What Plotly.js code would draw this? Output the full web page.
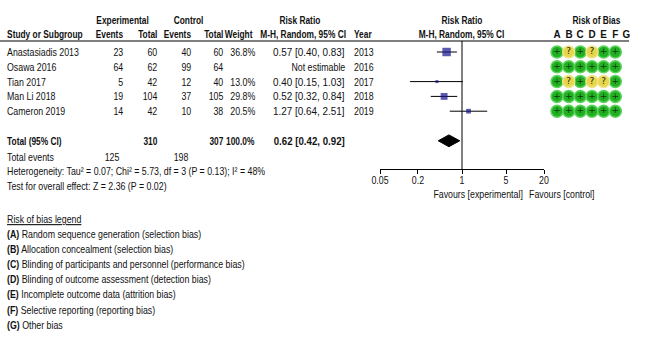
<!DOCTYPE html>
<html><head><meta charset="utf-8">
<script src="https://cdn.plot.ly/plotly-3.0.1.min.js"></script>
<style>html,body{margin:0;padding:0;background:#fff;}#chart{width:645px;height:355px;}</style>
</head><body><div id="chart"></div>
<script>
// ---------- data ----------
const studies = ['Anastasiadis 2013','Osawa 2016','Tian 2017','Man Li 2018','Cameron 2019'];
const expEvents = [23, 64, 5, 19, 14];
const expTotal = [60, 62, 42, 104, 42];
const ctrlEvents = [40, 99, 12, 37, 10];
const ctrlTotal = [60, 64, 40, 105, 38];
const weights = [36.8, null, 13.0, 29.8, 20.5];
const rr = [0.57, null, 0.40, 0.52, 1.27];
const rrLow = [0.40, null, 0.15, 0.32, 0.64];
const rrHigh = [0.83, null, 1.03, 0.84, 2.51];
const years = [2013, 2016, 2017, 2018, 2019];
const totalExp = 310, totalCtrl = 307, totalWeight = 100.0;
const totalEventsExp = 125, totalEventsCtrl = 198;
const pooled = {rr: 0.62, low: 0.42, high: 0.92};
const heterogeneityText = 'Heterogeneity: Tau² = 0.07; Chi² = 5.73, df = 3 (P = 0.13); I² = 48%';
const overallText = 'Test for overall effect: Z = 2.36 (P = 0.02)';
const axisTicks = [0.05, 0.2, 1, 5, 20];
const axisTickText = ['0.05', '0.2', '1', '5', '20'];
const robDomains = ['A','B','C','D','E','F','G'];
const robData = [
  ['+','?','+','?','+','+'],
  ['+','+','+','+','+','+'],
  ['+','?','+','?','?','+'],
  ['+','+','+','+','+','+'],
  ['+','+','+','+','+','+']
];
const robLegend = [
  ['A','Random sequence generation (selection bias)'],
  ['B','Allocation concealment (selection bias)'],
  ['C','Blinding of participants and personnel (performance bias)'],
  ['D','Blinding of outcome assessment (detection bias)'],
  ['E','Incomplete outcome data (attrition bias)'],
  ['F','Selective reporting (reporting bias)'],
  ['G','Other bias']
];

// ---------- layout helpers ----------
const W = 645, H = 355;
const px = x => x / W;
const py = y => 1 - y / H;
const FONT = 'Liberation Sans, Arial, sans-serif';
const TXT = '#111';
const TOTAL_ROW = 6;
const REG = 0.8, BOLD = 0.76;   // horizontal squeeze to mimic a narrow typeface
const annotations = [];
const annScale = [];
function ann(text, x, y, o, sc) {
  o = o || {};
  annotations.push(Object.assign({
    text: text, x: x, y: y, xref: 'paper', yref: 'paper', showarrow: false,
    xanchor: 'left', yanchor: 'middle', borderpad: 0, borderwidth: 0,
    font: {family: FONT, size: 11, color: TXT}
  }, o));
  annScale.push(sc || (text.indexOf('<b>') === 0 ? BOLD : REG));
}
const bold = s => '<b>' + s + '</b>';

// headers
ann(bold('Experimental'), px(122), py(20), {xanchor: 'center'});
ann(bold('Control'), px(188), py(20), {xanchor: 'center'});
ann(bold('Risk Ratio'), px(300), py(20), {xanchor: 'center'});
ann(bold('Risk Ratio'), px(462), py(20), {xanchor: 'center'});
ann(bold('Risk of Bias'), px(596), py(20), {xanchor: 'center'});
ann(bold('Study or Subgroup'), px(7), py(34));
ann(bold('Events'), px(123), py(34), {xanchor: 'right'});
ann(bold('Total'), px(157), py(34), {xanchor: 'right'});
ann(bold('Events'), px(191), py(34), {xanchor: 'right'});
ann(bold('Total'), px(223), py(34), {xanchor: 'right'});
ann(bold('Weight'), px(253), py(34), {xanchor: 'right'});
ann(bold('M-H, Random, 95% CI'), px(346), py(34), {xanchor: 'right'});
ann(bold('Year'), px(354), py(34));
ann(bold('M-H, Random, 95% CI'), px(461), py(34), {xanchor: 'center'});
robDomains.forEach(d => ann(bold(d), d, py(34), {xref: 'x2', xanchor: 'center'}, 0.9));

// study rows
studies.forEach((s, i) => {
  const o = {yref: 'y'};
  ann(s, px(7), i, o);
  ann(String(expEvents[i]), px(123), i, Object.assign({xanchor: 'right'}, o));
  ann(String(expTotal[i]), px(157), i, Object.assign({xanchor: 'right'}, o));
  ann(String(ctrlEvents[i]), px(191), i, Object.assign({xanchor: 'right'}, o));
  ann(String(ctrlTotal[i]), px(223), i, Object.assign({xanchor: 'right'}, o));
  if (weights[i] !== null) ann(weights[i].toFixed(1) + '%', px(255), i, Object.assign({xanchor: 'right'}, o));
  const rrTxt = rr[i] === null ? 'Not estimable' :
    rr[i].toFixed(2) + ' [' + rrLow[i].toFixed(2) + ', ' + rrHigh[i].toFixed(2) + ']';
  ann(rrTxt, px(345), i, Object.assign({xanchor: 'right'}, o), rr[i] === null ? REG : 0.9);
  ann(String(years[i]), px(354), i, o);
});

// total row
ann(bold('Total (95% CI)'), px(7), TOTAL_ROW, {yref: 'y'});
ann(bold(String(totalExp)), px(157), TOTAL_ROW, {yref: 'y', xanchor: 'right'});
ann(bold(String(totalCtrl)), px(223), TOTAL_ROW, {yref: 'y', xanchor: 'right'});
ann(bold(totalWeight.toFixed(1) + '%'), px(255), TOTAL_ROW, {yref: 'y', xanchor: 'right'});
ann(bold(pooled.rr.toFixed(2) + ' [' + pooled.low.toFixed(2) + ', ' + pooled.high.toFixed(2) + ']'), px(345), TOTAL_ROW, {yref: 'y', xanchor: 'right'}, 0.88);
ann('Total events', px(7), py(157));
ann(String(totalEventsExp), px(119), py(157), {xanchor: 'right'});
ann(String(totalEventsCtrl), px(188), py(157), {xanchor: 'right'});
ann(heterogeneityText, px(7), py(171));
ann(overallText, px(7), py(186));

// favours labels
ann('Favours [experimental]', 1, py(194), {xref: 'x', xanchor: 'right', xshift: -2});
ann('Favours [control]', 1, py(194), {xref: 'x', xanchor: 'left', xshift: 4});

// legend
ann('<span style="text-decoration:underline">Risk of bias legend</span>', px(7), py(219), {}, REG);
robLegend.forEach((r, k) => ann(bold('(' + r[0] + ')') + ' ' + r[1], px(7), py(234 + k * 15.1), {}, REG));

// ---------- traces ----------
const idx = studies.map((_, i) => i).filter(i => rr[i] !== null);
const ciX = [], ciY = [];
idx.forEach(i => { ciX.push(rrLow[i], rrHigh[i], null); ciY.push(i, i, null); });

const traces = [
  {type: 'scatter', mode: 'lines', x: ciX, y: ciY, xaxis: 'x', yaxis: 'y',
   line: {color: '#000', width: 1}, hoverinfo: 'skip'},
  {type: 'scatter', mode: 'markers', x: idx.map(i => rr[i]), y: idx,
   xaxis: 'x', yaxis: 'y',
   marker: {symbol: 'square', color: '#14148c', size: idx.map(i => weights[i] * 0.23),
            line: {width: 0}}, hoverinfo: 'skip'},
  {type: 'scatter', mode: 'lines', fill: 'toself', fillcolor: '#000',
   x: [pooled.low, pooled.rr, pooled.high, pooled.rr, pooled.low],
   y: [TOTAL_ROW, TOTAL_ROW - 0.4, TOTAL_ROW, TOTAL_ROW + 0.4, TOTAL_ROW],
   xaxis: 'x', yaxis: 'y', line: {color: '#000', width: 1}, hoverinfo: 'skip'}
];

// risk of bias circles
['+', '?'].forEach(sym => {
  const xs = [], ys = [];
  robData.forEach((row, i) => row.forEach((v, j) => { if (v === sym) { xs.push(robDomains[j]); ys.push(i); } }));
  traces.push({
    type: 'scatter', mode: 'markers+text', x: xs, y: ys, xaxis: 'x2', yaxis: 'y',
    text: xs.map(() => sym), textposition: 'middle center',
    textfont: {family: 'DejaVu Sans, sans-serif', size: 9, color: sym === '+' ? '#0b3b0b' : '#222'},
    marker: {symbol: 'circle', size: 12,
             color: sym === '+' ? '#22b022' : '#e8d64a',
             line: {color: sym === '+' ? '#5fd35f' : '#f0e48a', width: 1.5}},
    hoverinfo: 'skip', cliponaxis: false
  });
});

const shapes = [
  {type: 'line', xref: 'paper', yref: 'paper', x0: 0, x1: px(629), y0: py(41), y1: py(41),
   line: {color: '#000', width: 1.2}},
  {type: 'line', xref: 'x', yref: 'paper', x0: 1, x1: 1, y0: py(169), y1: py(41),
   line: {color: '#000', width: 1}}
];

const layout = {
  width: W, height: H, margin: {l: 0, r: 0, t: 0, b: 0},
  paper_bgcolor: '#fff', plot_bgcolor: 'rgba(0,0,0,0)', showlegend: false,
  font: {family: FONT, size: 11, color: TXT},
  xaxis: {type: 'log', domain: [px(380), px(544)], range: [Math.log10(0.05), Math.log10(20)],
          anchor: 'free', position: py(169), showline: true, linecolor: '#000', linewidth: 1,
          showgrid: false, zeroline: false, ticks: 'outside', ticklen: 4, tickwidth: 1, tickcolor: '#000',
          ticklabelstandoff: -3,
          tickvals: axisTicks, ticktext: axisTickText, tickfont: {family: FONT, size: 11, color: TXT}},
  xaxis2: {type: 'category', categoryarray: robDomains, categoryorder: 'array',
           domain: [px(551.2), px(632.8)], range: [-0.5, 6.5], anchor: 'y', visible: false},
  yaxis: {range: [(H - 52) / 14.8, -52 / 14.8], domain: [0, 1], visible: false, fixedrange: true},
  shapes: shapes, annotations: annotations
};

function squeeze(t, s, mode) {
  const bb = t.getBBox();
  const cx = mode === 'left' ? bb.x : mode === 'right' ? bb.x + bb.width : bb.x + bb.width / 2;
  const prev = t.getAttribute('transform') || '';
  t.setAttribute('transform', prev + ' translate(' + cx + ',0) scale(' + s + ',1) translate(' + (-cx) + ',0)');
}

Plotly.newPlot('chart', traces, layout, {staticPlot: true, displayModeBar: false}).then(gd => {
  gd.querySelectorAll('g.annotation').forEach(g => {
    const i = +g.getAttribute('data-index');
    const t = g.querySelector('text.annotation-text');
    if (!t || !annotations[i]) return;
    squeeze(t, annScale[i], annotations[i].xanchor);
  });
  gd.querySelectorAll('.xtick text').forEach(t => squeeze(t, REG, 'center'));
});
</script></body></html>
